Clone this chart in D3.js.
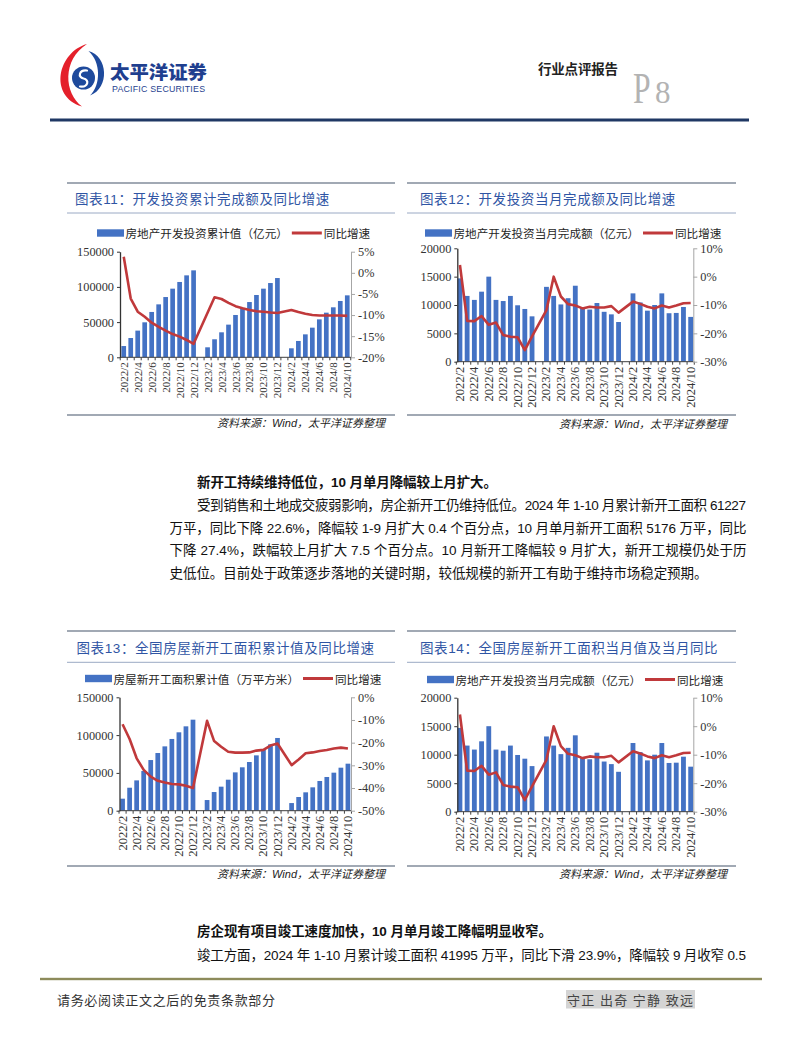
<!DOCTYPE html>
<html>
<head>
<meta charset="utf-8">
<script src="https://cdn.jsdelivr.net/npm/d3@7"></script>
<style>
  html, body { margin: 0; padding: 0; background: #fff; }
  svg { display: block; }
</style>
</head>
<body>
<svg id="page" width="802" height="1037"></svg>
<script>
/* page 8 — 太平洋证券 行业点评报告, four bar+line charts */

// ── Categories (2023/1 and 2024/1 carry no data) ──
const MONTHS = [
  "2022/2","2022/3","2022/4","2022/5","2022/6","2022/7","2022/8","2022/9","2022/10","2022/11","2022/12",
  "2023/1","2023/2","2023/3","2023/4","2023/5","2023/6","2023/7","2023/8","2023/9","2023/10","2023/11","2023/12",
  "2024/1","2024/2","2024/3","2024/4","2024/5","2024/6","2024/7","2024/8","2024/9","2024/10"
];
const TICK_LABELS = [
  "2022/2","2022/4","2022/6","2022/8","2022/10","2022/12",
  "2023/2","2023/4","2023/6","2023/8","2023/10","2023/12",
  "2024/2","2024/4","2024/6","2024/8","2024/10"
];

// 图表11: 开发投资累计值（亿元）+ 同比 (%)
const CUM_INVEST = [
  16000, 27400, 37900, 49700, 64400, 75200, 85600, 97500, 107000, 116400, 123500, null,
  14200, 25600, 35500, 46400, 60100, 69600, 78500, 88500, 97500, 105500, 112600, null,
  12800, 23200, 32600, 42100, 53900, 63400, 71000, 80000, 88000
];
const CUM_INVEST_YOY = [
  3.8, -6.1, -9.2, -10.4, -11.8, -12.8, -13.7, -14.5, -15.1, -15.9, -16.8, null,
  null, -5.8, -6.2, -7.1, -7.9, -8.4, -8.8, -9.1, -9.2, -9.4, -9.5, null,
  -8.8, -9.3, -9.7, -10.0, -10.1, -10.1, -10.1, -10.1, -10.2
];

// 图表12 / 图表14: 当月完成额（亿元）+ 同比 (%)
const MONTH_INVEST = [
  14700, 11600, 10900, 12350, 15000, 10900, 10700, 11600, 9950, 9300, 8000, null,
  13200, 11600, 10100, 11200, 13400, 9500, 9200, 10350, 8800, 8350, 7000, null,
  12050, 10450, 9000, 10000, 12050, 8550, 8600, 9650, 7900
];
const MONTH_INVEST_YOY = [
  4.1, -15.6, -15.7, -13.9, -17.0, -16.2, -20.6, -21.2, -21.4, -25.9, -21.1, null,
  -11.8, 0.0, -7.0, -9.7, -10.2, -11.2, -10.6, -10.9, -10.9, -10.4, -12.7, null,
  -8.8, -9.6, -10.6, -11.2, -10.2, -10.9, -10.2, -9.4, -9.3
];

// 图表13: 新开工面积累计值（万平方米）+ 同比 (%)
const NEW_START_CUM = [
  15900, 30400, 40100, 52500, 67000, 76300, 85100, 94900, 103700, 111600, 120400, null,
  14100, 24700, 31800, 41000, 50700, 57400, 64400, 73200, 80700, 87800, 96200, null,
  10100, 18100, 24300, 30900, 39300, 44600, 50300, 56900, 62200
];
const NEW_START_YOY = [
  -11.9, -18.4, -26.9, -32.0, -35.0, -36.8, -37.6, -38.2, -38.4, -39.0, -40.0, null,
  -10.4, -19.3, -21.8, -24.0, -24.4, -24.4, -24.3, -23.5, -23.2, -21.3, -20.4, null,
  -29.9, -27.4, -24.7, -24.3, -23.7, -23.2, -22.6, -22.2, -22.6
];

const BAR_COLOR  = "#4472C4";
const LINE_COLOR = "#C0393B";
const CJK   = "'Noto Sans CJK SC','Noto Sans',sans-serif";
const MIXED = "'Liberation Sans','Noto Sans CJK SC',sans-serif";
const SERIF = "'Liberation Serif','Times New Roman',serif";

const svg = d3.select("#page");
svg.append("rect").attr("width", 802).attr("height", 1037).attr("fill", "#fff");

// ── Header: logo, report type, page number ──
const logo = svg.append("g");
logo.append("path")
  .attr("d", "M87 44 C58 52 48 96 82 106.5 C64 93 62 60 87 44 Z")
  .attr("fill", "#E4202B");
logo.append("path")
  .attr("d", "M88.5 51 C108 56 110 88 90 95.5 C101 85 101 62 88.5 51 Z")
  .attr("fill", "#1E4A9C");
logo.append("circle").attr("cx", 83.5).attr("cy", 78).attr("r", 11.5).attr("fill", "#1E4A9C");
logo.append("path")
  .attr("d", "M87 70.5 C79 69.5 77.5 77.5 83.5 78.5 C89.5 79.5 88.5 87.5 80 86.5")
  .attr("fill", "none").attr("stroke", "#fff").attr("stroke-width", 2.2).attr("stroke-linecap", "round");

// company name sits on its baseline so it stays clear of the English line below
svg.append("text")
  .attr("x", 110).attr("y", 79)
  .attr("font-family", CJK).attr("font-weight", 900).attr("font-size", 18.5)
  .attr("fill", "#1F3F8F").attr("textLength", 97).attr("lengthAdjust", "spacingAndGlyphs")
  .text("太平洋证券");
svg.append("text")
  .attr("x", 112).attr("y", 92)
  .attr("font-family", "'Liberation Sans',sans-serif").attr("font-size", 8.8)
  .attr("fill", "#1F3F8F").attr("textLength", 93).attr("lengthAdjust", "spacing")
  .text("PACIFIC SECURITIES");

svg.append("text")
  .attr("x", 538).attr("y", 68).attr("dominant-baseline", "central")
  .attr("font-family", CJK).attr("font-weight", 700).attr("font-size", 13.5)
  .attr("fill", "#222").attr("textLength", 80).attr("lengthAdjust", "spacing")
  .text("行业点评报告");
svg.append("text")
  .attr("transform", "translate(633,103) scale(0.72,1)")
  .attr("font-family", SERIF).attr("font-size", 44).attr("fill", "#B3B3B3")
  .text("P");
svg.append("text")
  .attr("x", 655).attr("y", 103)
  .attr("font-family", SERIF).attr("font-size", 31).attr("fill", "#B3B3B3")
  .text("8");
svg.append("rect").attr("x", 50).attr("y", 118.5).attr("width", 699).attr("height", 3).attr("fill", "#1F3864");

// ── One bar + line panel ──
function drawChart(cfg) {
  const g = svg.append("g");

  // title bar
  g.append("line").attr("x1", cfg.x0).attr("x2", cfg.x1).attr("y1", cfg.top).attr("y2", cfg.top)
    .attr("stroke", "#44546A").attr("stroke-width", 1.2);
  g.append("text")
    .attr("x", cfg.titleX).attr("y", cfg.titleY).attr("dominant-baseline", "central")
    .attr("font-family", MIXED).attr("font-size", 13.5).attr("fill", "#2F55A4")
    .attr("letter-spacing", 0.6)
    .text(cfg.title);
  g.append("line").attr("x1", cfg.x0).attr("x2", cfg.x1).attr("y1", cfg.titleLineY).attr("y2", cfg.titleLineY)
    .attr("stroke", "#9AA9C4").attr("stroke-width", 1);

  // legend
  let lx = cfg.legendX;
  g.append("rect").attr("x", lx).attr("y", cfg.legendY - 3.7).attr("width", 27).attr("height", 7.4).attr("fill", BAR_COLOR);
  lx += 28.5;
  const t1 = g.append("text")
    .attr("x", lx).attr("y", cfg.legendY).attr("dominant-baseline", "central")
    .attr("font-family", CJK).attr("font-size", 11.6).attr("fill", "#262626")
    .text(cfg.barName);
  lx += t1.node().getComputedTextLength() + 4;
  g.append("line").attr("x1", lx).attr("x2", lx + 30).attr("y1", cfg.legendY).attr("y2", cfg.legendY)
    .attr("stroke", LINE_COLOR).attr("stroke-width", 3);
  g.append("text")
    .attr("x", lx + 32).attr("y", cfg.legendY).attr("dominant-baseline", "central")
    .attr("font-family", CJK).attr("font-size", 11.6).attr("fill", "#262626")
    .text("同比增速");

  // scales
  const x = d3.scaleBand().domain(MONTHS).range([cfg.left, cfg.right])
    .paddingInner(0.33).paddingOuter(cfg.po);
  const yL = d3.scaleLinear().domain(cfg.leftDomain).range([cfg.bottom, cfg.plotTop]);
  const yR = d3.scaleLinear().domain(cfg.rightDomain).range([cfg.bottom, cfg.plotTop]);

  // bars
  const barData = MONTHS.map((m, i) => ({ m, v: cfg.bars[i] })).filter(d => d.v != null);
  g.selectAll("rect.bar")
    .data(barData)
    .join("rect")
      .attr("class", "bar")
      .attr("x", d => x(d.m))
      .attr("width", x.bandwidth())
      .attr("y", d => yL(d.v))
      .attr("height", d => yL(0) - yL(d.v))
      .attr("fill", BAR_COLOR);

  // bottom axis with small ticks at category edges
  g.append("line").attr("x1", cfg.left).attr("x2", cfg.right).attr("y1", cfg.bottom).attr("y2", cfg.bottom)
    .attr("stroke", "#404040").attr("stroke-width", 1);
  const half = x.step() * x.paddingInner() / 2;
  const edgeX = (d, i) => i < MONTHS.length ? x(d) - half : x(MONTHS[MONTHS.length - 1]) + x.step() - half;
  g.selectAll("line.xtick")
    .data(MONTHS.concat(["end"]))
    .join("line")
      .attr("class", "xtick")
      .attr("x1", edgeX).attr("x2", edgeX)
      .attr("y1", cfg.bottom).attr("y2", cfg.bottom + 3)
      .attr("stroke", "#404040");
  g.selectAll("text.xlabel")
    .data(TICK_LABELS)
    .join("text")
      .attr("class", "xlabel")
      .attr("transform", d => `translate(${x(d) + x.bandwidth() / 2},${cfg.bottom + 5}) rotate(-90)`)
      .attr("text-anchor", "end").attr("dominant-baseline", "central")
      .attr("font-family", SERIF).attr("font-size", cfg.xFont).attr("fill", "#333")
      .text(d => d);

  // left axis
  const axL = g.append("g").attr("transform", `translate(${cfg.left},0)`)
    .call(d3.axisLeft(yL).tickValues(cfg.leftTicks).tickSize(3).tickPadding(3).tickSizeOuter(0).tickFormat(d3.format("d")));
  axL.select(".domain").attr("stroke", "#333").attr("stroke-width", 1.3);
  axL.selectAll(".tick line").attr("stroke", "#333");
  axL.selectAll("text").attr("font-family", SERIF).attr("font-size", 12.3).attr("fill", "#333");

  // right axis
  const axR = g.append("g").attr("transform", `translate(${cfg.right},0)`)
    .call(d3.axisRight(yR).tickValues(cfg.rightTicks).tickSize(4).tickPadding(3).tickSizeOuter(0).tickFormat(d => d + "%"));
  axR.select(".domain").attr("stroke", "#A6A6A6");
  axR.selectAll(".tick line").attr("stroke", "#A6A6A6");
  axR.selectAll("text").attr("font-family", SERIF).attr("font-size", 12.3).attr("fill", "#333");

  // growth line (gaps joined)
  const pts = MONTHS.map((m, i) => ({ m, v: cfg.line[i] })).filter(d => d.v != null);
  g.append("path")
    .datum(pts)
    .attr("d", d3.line().x(d => x(d.m) + x.bandwidth() / 2).y(d => yR(d.v)))
    .attr("fill", "none")
    .attr("stroke", LINE_COLOR)
    .attr("stroke-width", 2.6)
    .attr("stroke-linejoin", "round");

  // source
  g.append("line").attr("x1", cfg.x0).attr("x2", cfg.x1).attr("y1", cfg.srcLine).attr("y2", cfg.srcLine)
    .attr("stroke", "#44546A").attr("stroke-width", 1.2);
  g.append("text")
    .attr("x", cfg.srcX).attr("y", cfg.srcText).attr("dominant-baseline", "central")
    .attr("text-anchor", "end")
    .attr("font-family", MIXED).attr("font-size", 11).attr("font-style", "italic").attr("fill", "#222")
    .text("资料来源：Wind，太平洋证券整理");
}

drawChart({
  x0: 67, x1: 395, top: 183, titleX: 75, titleY: 199, titleLineY: 213,
  title: "图表11：开发投资累计完成额及同比增速",
  legendX: 97, legendY: 233, barName: "房地产开发投资累计值（亿元）",
  left: 120, right: 351, plotTop: 251.7, bottom: 357.3, po: 0.2,
  leftDomain: [0, 150000], leftTicks: [0, 50000, 100000, 150000],
  rightDomain: [-20, 5], rightTicks: [-20, -15, -10, -5, 0, 5],
  xFont: 11, srcLine: 415, srcText: 423, srcX: 385,
  bars: CUM_INVEST, line: CUM_INVEST_YOY
});
drawChart({
  x0: 407, x1: 736, top: 183, titleX: 420, titleY: 199, titleLineY: 213,
  title: "图表12：开发投资当月完成额及同比增速",
  legendX: 425, legendY: 233, barName: "房地产开发投资当月完成额（亿元）",
  left: 457.3, right: 693.3, plotTop: 248.3, bottom: 361.7, po: 0.03,
  leftDomain: [0, 20000], leftTicks: [0, 5000, 10000, 15000, 20000],
  rightDomain: [-30, 10], rightTicks: [-30, -20, -10, 0, 10],
  xFont: 12.5, srcLine: 415, srcText: 423.5, srcX: 727,
  bars: MONTH_INVEST, line: MONTH_INVEST_YOY
});
drawChart({
  x0: 67, x1: 395, top: 631, titleX: 76.5, titleY: 648.3, titleLineY: 662.3,
  title: "图表13：全国房屋新开工面积累计值及同比增速",
  legendX: 85, legendY: 678.5, barName: "房屋新开工面积累计值（万平方米）",
  left: 119.5, right: 351, plotTop: 697.3, bottom: 810.7, po: 0.1,
  leftDomain: [0, 150000], leftTicks: [0, 50000, 100000, 150000],
  rightDomain: [-50, 0], rightTicks: [-50, -40, -30, -20, -10, 0],
  xFont: 12.5, srcLine: 866, srcText: 873.5, srcX: 385,
  bars: NEW_START_CUM, line: NEW_START_YOY
});
drawChart({
  x0: 407, x1: 736, top: 631, titleX: 420, titleY: 648.3, titleLineY: 662.3,
  title: "图表14：全国房屋新开工面积当月值及当月同比",
  legendX: 427, legendY: 679.5, barName: "房地产开发投资当月完成额（亿元）",
  left: 457.3, right: 693.3, plotTop: 697.7, bottom: 811.7, po: 0.03,
  leftDomain: [0, 20000], leftTicks: [0, 5000, 10000, 15000, 20000],
  rightDomain: [-30, 10], rightTicks: [-30, -20, -10, 0, 10],
  xFont: 12.5, srcLine: 866, srcText: 873.5, srcX: 727,
  bars: MONTH_INVEST, line: MONTH_INVEST_YOY
});

// ── Body text ──
const BODY = [
  { x: 197,   y: 482,   w: 300, bold: true,  t: "新开工持续维持低位，10 月单月降幅较上月扩大。" },
  { x: 197,   y: 505.5, w: 549, bold: false, t: "受到销售和土地成交疲弱影响，房企新开工仍维持低位。2024 年 1-10 月累计新开工面积 61227" },
  { x: 169.5, y: 528,   w: 577, bold: false, t: "万平，同比下降 22.6%，降幅较 1-9 月扩大 0.4 个百分点，10 月单月新开工面积 5176 万平，同比" },
  { x: 169.5, y: 550.5, w: 577, bold: false, t: "下降 27.4%，跌幅较上月扩大 7.5 个百分点。10 月新开工降幅较 9 月扩大，新开工规模仍处于历" },
  { x: 169.5, y: 573,   w: 538, bold: false, t: "史低位。目前处于政策逐步落地的关键时期，较低规模的新开工有助于维持市场稳定预期。" },
  { x: 197,   y: 931.5, w: 355, bold: true,  t: "房企现有项目竣工速度加快，10 月单月竣工降幅明显收窄。" },
  { x: 197,   y: 955.5, w: 549, bold: false, t: "竣工方面，2024 年 1-10 月累计竣工面积 41995 万平，同比下滑 23.9%，降幅较 9 月收窄 0.5" }
];
svg.selectAll("text.body")
  .data(BODY)
  .join("text")
    .attr("class", "body")
    .attr("x", d => d.x).attr("y", d => d.y)
    .attr("dominant-baseline", "central")
    .attr("font-family", MIXED).attr("font-size", 13.5)
    .attr("font-weight", d => d.bold ? 700 : 400)
    .attr("fill", "#111")
    .attr("textLength", d => d.w).attr("lengthAdjust", "spacing")
    .text(d => d.t);

// ── Footer ──
svg.append("rect").attr("x", 40).attr("y", 977.8).attr("width", 722).attr("height", 2.4).attr("fill", "#8D8B5B");
svg.append("text")
  .attr("x", 57).attr("y", 999).attr("dominant-baseline", "central")
  .attr("font-family", CJK).attr("font-size", 13).attr("fill", "#333")
  .attr("textLength", 218).attr("lengthAdjust", "spacing")
  .text("请务必阅读正文之后的免责条款部分");
svg.append("rect").attr("x", 566).attr("y", 990).attr("width", 129).attr("height", 18.5).attr("fill", "#D4D4D4");
svg.append("text")
  .attr("x", 567).attr("y", 999.3).attr("dominant-baseline", "central")
  .attr("font-family", CJK).attr("font-size", 13).attr("fill", "#444")
  .attr("textLength", 126).attr("lengthAdjust", "spacing")
  .text("守正 出奇 宁静 致远");
</script>
</body>
</html>
